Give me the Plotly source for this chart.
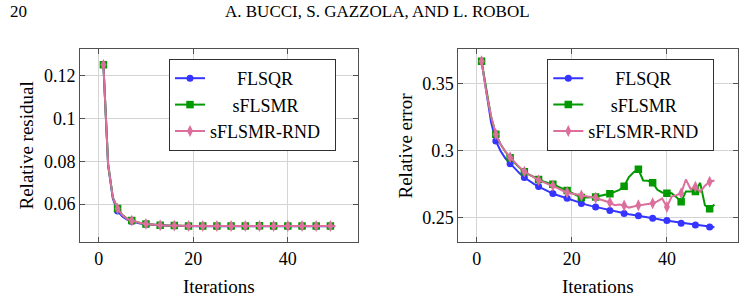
import plotly.graph_objects as go

W, H = 744, 299

iterations = list(range(1, 51))
series_names = ["FLSQR", "sFLSMR", "sFLSMR-RND"]

# Left panel: relative residual
res_flsqr = [0.1250, 0.0780, 0.0625, 0.0568, 0.0543, 0.0528, 0.0519, 0.0513, 0.0509, 0.0506,
             0.0504, 0.0502, 0.0501, 0.0500, 0.0499, 0.0499, 0.0498, 0.0498, 0.0498, 0.0497,
             0.0497, 0.0497, 0.0497, 0.0497, 0.0497, 0.0497, 0.0497, 0.0497, 0.0497, 0.0497,
             0.0497, 0.0497, 0.0497, 0.0497, 0.0497, 0.0497, 0.0497, 0.0497, 0.0497, 0.0497,
             0.0497, 0.0497, 0.0497, 0.0497, 0.0497, 0.0497, 0.0497, 0.0497, 0.0497, 0.0497]
res_sflsmr = [0.1250, 0.0788, 0.0632, 0.0580, 0.0550, 0.0533, 0.0524, 0.0517, 0.0511, 0.0508,
              0.0505, 0.0503, 0.0502, 0.0501, 0.0500, 0.0500, 0.0499, 0.0499, 0.0498, 0.0498,
              0.0498, 0.0498, 0.0498, 0.0498, 0.0498, 0.0498, 0.0498, 0.0498, 0.0498, 0.0498,
              0.0498, 0.0498, 0.0499, 0.0499, 0.0499, 0.0498, 0.0498, 0.0498, 0.0498, 0.0498,
              0.0498, 0.0498, 0.0498, 0.0498, 0.0498, 0.0498, 0.0498, 0.0498, 0.0498, 0.0498]
res_rnd = [0.1250, 0.0786, 0.0631, 0.0579, 0.0549, 0.0532, 0.0523, 0.0516, 0.0511, 0.0508,
           0.0505, 0.0503, 0.0502, 0.0501, 0.0500, 0.0500, 0.0499, 0.0499, 0.0498, 0.0498,
           0.0498, 0.0498, 0.0498, 0.0498, 0.0498, 0.0498, 0.0498, 0.0498, 0.0498, 0.0498,
           0.0498, 0.0498, 0.0498, 0.0498, 0.0498, 0.0498, 0.0498, 0.0498, 0.0498, 0.0498,
           0.0498, 0.0498, 0.0498, 0.0498, 0.0498, 0.0498, 0.0498, 0.0498, 0.0498, 0.0498]

# Right panel: relative error
err_flsqr = [0.3665, 0.3420, 0.3210, 0.3070, 0.2995, 0.2940, 0.2900, 0.2862, 0.2828, 0.2797,
             0.2772, 0.2750, 0.2729, 0.2710, 0.2693, 0.2677, 0.2664, 0.2652, 0.2641, 0.2628,
             0.2615, 0.2603, 0.2594, 0.2585, 0.2577, 0.2567, 0.2558, 0.2550, 0.2543, 0.2535,
             0.2528, 0.2522, 0.2516, 0.2511, 0.2504, 0.2498, 0.2492, 0.2486, 0.2480, 0.2475,
             0.2468, 0.2461, 0.2456, 0.2451, 0.2446, 0.2442, 0.2437, 0.2432, 0.2428, 0.2425]
err_sflsmr = [0.3665, 0.3440, 0.3250, 0.3120, 0.3045, 0.2990, 0.2945, 0.2905, 0.2870, 0.2840,
              0.2818, 0.2800, 0.2782, 0.2768, 0.2756, 0.2746, 0.2730, 0.2715, 0.2700, 0.2682,
              0.2664, 0.2648, 0.2648, 0.2650, 0.2652, 0.2660, 0.2668, 0.2676, 0.2690, 0.2705,
              0.2731, 0.2800, 0.2835, 0.2858, 0.2775, 0.2772, 0.2757, 0.2705, 0.2685, 0.2680,
              0.2680, 0.2650, 0.2615, 0.2693, 0.2693, 0.2693, 0.2757, 0.2590, 0.2564, 0.2595]
err_rnd = [0.3665, 0.3435, 0.3255, 0.3120, 0.3045, 0.2990, 0.2949, 0.2910, 0.2873, 0.2841,
           0.2818, 0.2797, 0.2777, 0.2762, 0.2749, 0.2736, 0.2718, 0.2700, 0.2685, 0.2677,
           0.2669, 0.2662, 0.2657, 0.2651, 0.2646, 0.2633, 0.2620, 0.2610, 0.2590, 0.2595,
           0.2588, 0.2572, 0.2580, 0.2590, 0.2593, 0.2597, 0.2605, 0.2618, 0.2640, 0.2577,
           0.2654, 0.2665, 0.2680, 0.2782, 0.2710, 0.2728, 0.2690, 0.2735, 0.2765, 0.2775]

x_ticks = [0, 20, 40]
res_ticks = [0.06, 0.08, 0.1, 0.12]
err_ticks = [0.25, 0.3, 0.35]

header_page = "20"
header_title = "A. BUCCI, S. GAZZOLA, AND L. ROBOL"
x_title = "Iterations"
y_titles = ["Relative residual", "Relative error"]

FONT = "Liberation Serif, DejaVu Serif, serif"
colors = ["#3535ff", "#009a00", "#dc6f9c"]
symbols = ["circle", "square", "diamond-tall"]
msizes = [7, 7.5, 8.5]
MARK_EVERY = 3

def px_x(p):
    return p / W

def px_y(p):
    return 1 - p / H

fig = go.Figure()

panels = [
    ("x", "y", "legend", [res_flsqr, res_sflsmr, res_rnd]),
    ("x2", "y2", "legend2", [err_flsqr, err_sflsmr, err_rnd]),
]

# centre legend text like the reference (non-breaking-space padding)
pads = {"FLSQR": (6, 0), "sFLSMR": (5, 0), "sFLSMR-RND": (0, 2)}

for xa, ya, lg, data in panels:
    for name, ys, c, sym, ms in zip(series_names, data, colors, symbols, msizes):
        mx = [it for i, it in enumerate(iterations) if i % MARK_EVERY == 0]
        my = [v for i, v in enumerate(ys) if i % MARK_EVERY == 0]
        fig.add_trace(go.Scatter(x=iterations, y=ys, mode="lines", xaxis=xa, yaxis=ya,
                                 line=dict(color=c, width=2), showlegend=False, hoverinfo="skip"))
        fig.add_trace(go.Scatter(x=mx, y=my, mode="markers", xaxis=xa, yaxis=ya,
                                 marker=dict(color=c, symbol=sym, size=ms, line=dict(width=0)),
                                 showlegend=False))
        lp, rp = pads.get(name, (0, 0))
        fig.add_trace(go.Scatter(x=[None], y=[None], mode="lines+markers", xaxis=xa, yaxis=ya,
                                 name="\u00a0" * lp + name + "\u00a0" * rp, legend=lg,
                                 line=dict(color=c, width=2),
                                 marker=dict(color=c, symbol=sym, size=ms, line=dict(width=0))))

axis_common = dict(
    showline=True, linecolor="#505050", linewidth=1, mirror="ticks",
    ticks="inside", ticklen=5, tickcolor="#505050", tickwidth=1,
    showgrid=True, gridcolor="#d4d4d4", gridwidth=1, zeroline=False,
    tickfont=dict(family=FONT, size=18, color="black"),
)

y_dom = [px_y(242), px_y(49)]
legend_common = dict(yanchor="top", xanchor="left", y=px_y(59),
                     bgcolor="white", bordercolor="#303030", borderwidth=1,
                     font=dict(family=FONT, size=18, color="black"), tracegroupgap=0)
fig.update_layout(
    width=W, height=H, margin=dict(l=0, r=0, t=0, b=0),
    paper_bgcolor="white", plot_bgcolor="white",
    xaxis=dict(domain=[px_x(80), px_x(358.3)], range=[-3.95, 54.9], tickvals=x_ticks,
               anchor="y", **axis_common),
    yaxis=dict(domain=y_dom, range=[0.04235, 0.1324], tickvals=res_ticks, anchor="x",
               **axis_common),
    xaxis2=dict(domain=[px_x(458.3), px_x(737.7)], range=[-3.9, 54.9], tickvals=x_ticks,
                anchor="y2", **axis_common),
    yaxis2=dict(domain=y_dom, range=[0.2315, 0.3757], tickvals=err_ticks, anchor="x2",
                **axis_common),
    legend=dict(x=px_x(169), **legend_common),
    legend2=dict(x=px_x(547.3), **legend_common),
)

ann = []
ann.append(dict(text=header_page, x=px_x(8), y=px_y(12), xanchor="left", yanchor="middle",
                font=dict(family=FONT, size=17, color="black")))
ann.append(dict(text=header_title, x=px_x(377), y=px_y(12), xanchor="center", yanchor="middle",
                font=dict(family=FONT, size=17, color="black")))
for cx in [(80 + 358.3) / 2, (458.3 + 737.7) / 2]:
    ann.append(dict(text=x_title, x=px_x(cx), y=px_y(286), xanchor="center", yanchor="middle",
                    font=dict(family=FONT, size=19, color="black")))
for cx, t in zip([26, 405], y_titles):
    ann.append(dict(text=t, x=px_x(cx), y=px_y(145.5), xanchor="center", yanchor="middle",
                    textangle=-90, font=dict(family=FONT, size=19, color="black")))
for a in ann:
    a.update(xref="paper", yref="paper", showarrow=False)
fig.update_layout(annotations=ann)

fig.write_html("out.html")
